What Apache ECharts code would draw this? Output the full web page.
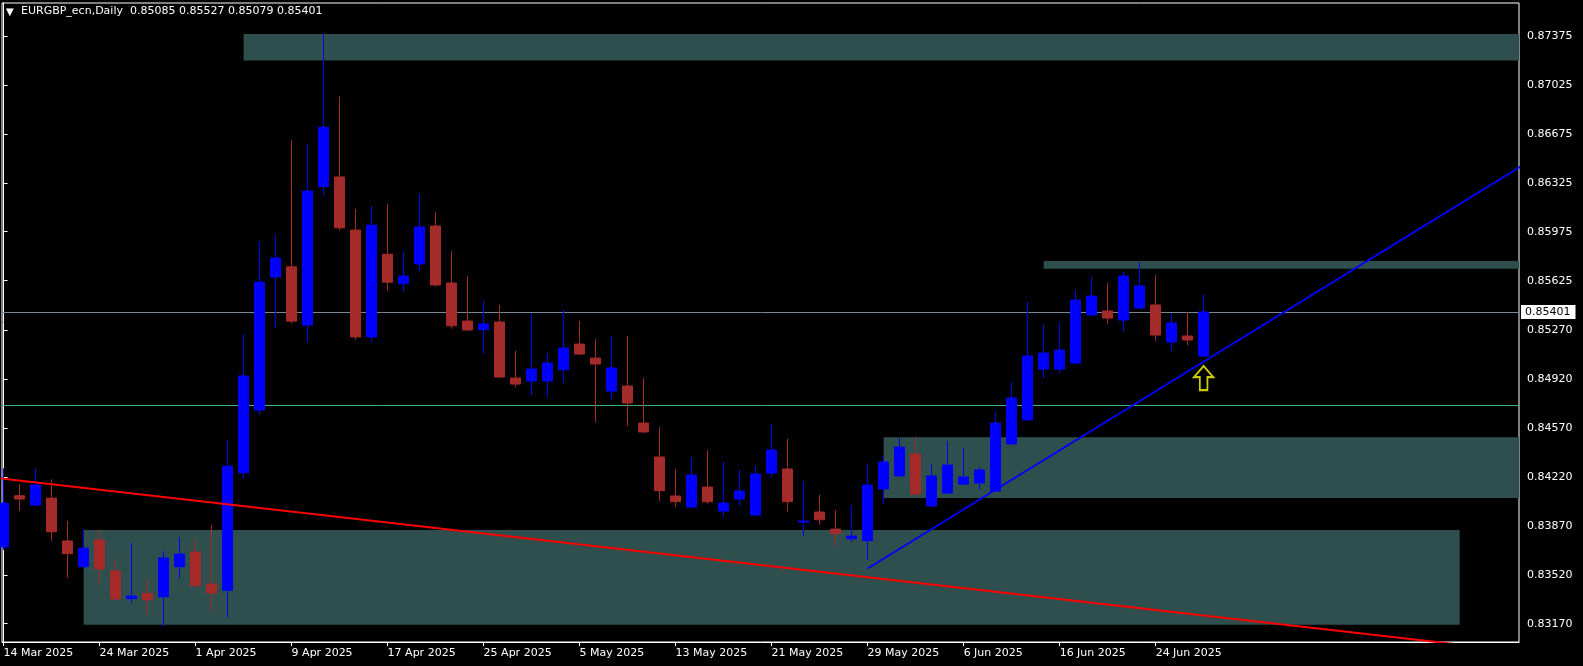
<!DOCTYPE html>
<html><head><meta charset="utf-8">
<script src="https://cdn.jsdelivr.net/npm/echarts@6.0.0/dist/echarts.min.js"></script>
<style>html,body{margin:0;padding:0;background:#000;}#c{width:1583px;height:666px;}</style>
</head><body><div id="c"></div><script>
const titleText = 'EURGBP_ecn,Daily  0.85085 0.85527 0.85079 0.85401';
const dates = ['14 Mar 2025','17 Mar 2025','18 Mar 2025','19 Mar 2025','20 Mar 2025','21 Mar 2025',
 '24 Mar 2025','25 Mar 2025','26 Mar 2025','27 Mar 2025','28 Mar 2025','31 Mar 2025',
 '1 Apr 2025','2 Apr 2025','3 Apr 2025','4 Apr 2025','7 Apr 2025','8 Apr 2025',
 '9 Apr 2025','10 Apr 2025','11 Apr 2025','14 Apr 2025','15 Apr 2025','16 Apr 2025',
 '17 Apr 2025','18 Apr 2025','21 Apr 2025','22 Apr 2025','23 Apr 2025','24 Apr 2025',
 '25 Apr 2025','28 Apr 2025','29 Apr 2025','30 Apr 2025','1 May 2025','2 May 2025',
 '5 May 2025','6 May 2025','7 May 2025','8 May 2025','9 May 2025','12 May 2025',
 '13 May 2025','14 May 2025','15 May 2025','16 May 2025','19 May 2025','20 May 2025',
 '21 May 2025','22 May 2025','23 May 2025','26 May 2025','27 May 2025','28 May 2025',
 '29 May 2025','30 May 2025','2 Jun 2025','3 Jun 2025','4 Jun 2025','5 Jun 2025',
 '6 Jun 2025','9 Jun 2025','10 Jun 2025','11 Jun 2025','12 Jun 2025','13 Jun 2025',
 '16 Jun 2025','17 Jun 2025','18 Jun 2025','19 Jun 2025','20 Jun 2025','23 Jun 2025',
 '24 Jun 2025','25 Jun 2025','26 Jun 2025','27 Jun 2025'];
const opens = [0.83719,0.84086,0.84019,0.84069,0.83762,0.83578,0.83769,0.83547,0.83349,0.83387,
 0.83363,0.83578,0.83683,0.83454,0.83409,0.84250,0.84699,0.85652,0.85724,0.85307,
 0.86299,0.86367,0.85987,0.85222,0.85814,0.85603,0.85745,0.86016,0.85608,0.85336,
 0.85274,0.85329,0.84928,0.84907,0.84907,0.84987,0.85171,0.85071,0.84835,0.84871,
 0.84606,0.84363,0.84084,0.84005,0.84148,0.83976,0.84062,0.83948,0.84248,0.84277,
 0.83897,0.83969,0.83847,0.83778,0.83764,0.84134,0.84227,0.84384,0.84012,0.84105,
 0.84169,0.84177,0.84119,0.84456,0.84628,0.84992,0.84992,0.85035,0.85379,0.85408,
 0.85343,0.85429,0.85451,0.85186,0.85229,0.85085];
const highs = [0.84282,0.84169,0.84282,0.84203,0.83905,0.83845,0.83840,0.83631,0.83747,0.83487,
 0.83690,0.83790,0.83785,0.83875,0.84483,0.85239,0.85907,0.85951,0.86630,0.86603,
 0.87389,0.86945,0.86138,0.86159,0.86173,0.85831,0.86244,0.86116,0.85837,0.85658,
 0.85479,0.85451,0.85121,0.85386,0.85107,0.85415,0.85336,0.85207,0.85229,0.85229,
 0.84928,0.84577,0.84277,0.84363,0.84413,0.84327,0.84270,0.84298,0.84599,0.84492,
 0.84191,0.84091,0.83983,0.84019,0.84313,0.84370,0.84499,0.84506,0.84313,0.84477,
 0.84427,0.84291,0.84685,0.84892,0.85472,0.85315,0.85322,0.85558,0.85651,0.85608,
 0.85687,0.85758,0.85665,0.85386,0.85400,0.85527];
const lows = [0.83697,0.83978,0.84019,0.83764,0.83499,0.83578,0.83456,0.83341,0.83318,0.83234,
 0.83148,0.83492,0.83430,0.83257,0.83212,0.84209,0.84666,0.85285,0.85318,0.85186,
 0.86238,0.85984,0.85203,0.85189,0.85554,0.85543,0.85696,0.85582,0.85281,0.85264,
 0.85107,0.84928,0.84864,0.84806,0.84792,0.84892,0.85093,0.84613,0.84778,0.84585,
 0.84534,0.84050,0.84007,0.84005,0.84028,0.83933,0.84019,0.83948,0.84220,0.83971,
 0.83799,0.83878,0.83728,0.83757,0.83626,0.84026,0.84227,0.84091,0.84012,0.84105,
 0.84162,0.84127,0.84119,0.84456,0.84628,0.84928,0.84964,0.85035,0.85379,0.85315,
 0.85257,0.85429,0.85193,0.85121,0.85164,0.85079];
const closes = [0.84033,0.84062,0.84162,0.83828,0.83671,0.83711,0.83561,0.83346,0.83368,0.83341,
 0.83640,0.83668,0.83442,0.83390,0.84297,0.84943,0.85614,0.85787,0.85335,0.86266,
 0.86723,0.86003,0.85222,0.86022,0.85614,0.85658,0.86009,0.85594,0.85302,0.85272,
 0.85315,0.84935,0.84885,0.84992,0.85035,0.85143,0.85100,0.85028,0.85000,0.84749,
 0.84542,0.84122,0.84043,0.84234,0.84043,0.84033,0.84119,0.84241,0.84413,0.84043,
 0.83905,0.83914,0.83814,0.83797,0.84162,0.84327,0.84434,0.84098,0.84227,0.84305,
 0.84220,0.84270,0.84606,0.84785,0.85086,0.85107,0.85128,0.85486,0.85515,0.85357,
 0.85658,0.85587,0.85236,0.85322,0.85200,0.85401];
const tickBars = [0,6,12,18,24,30,36,42,48,54,60,66,72];
const priceTicks = [0.87375,0.87025,0.86675,0.86325,0.85975,0.85625,0.85270,0.84920,0.84570,0.84220,0.83870,0.83520,0.83170];
const lastPrice = 0.85401;
const greenLevel = 0.84736;
// view window (bar index / price)
const xMin = -0.1, xMax = 94.71, yMin = 0.83039, yMax = 0.87612;
// zones: [fromBar, toBar, topPrice, bottomPrice]
const zones = [
  [15, xMax, 0.87390, 0.87200],
  [65, xMax, 0.85765, 0.85710],
  [55, xMax, 0.84505, 0.84070],
  [5, 91, 0.83840, 0.83162]
];
const redTrend = [[-1, 0.84220], [95, 0.82968]];
const blueTrend = [[54, 0.83565], [96, 0.86526]];
const arrowPoint = [75, 0.84928];

const candleData = opens.map((o, i) => [i, o, closes[i], lows[i], highs[i]]);
const FONT = 'DejaVu Sans';
const chart = echarts.init(document.getElementById('c'), null, {renderer: 'canvas'});
chart.setOption({
  backgroundColor: '#000',
  animation: false,
  title: [
    {text: '▼', left: 1, top: 2, textStyle: {color: '#fff', fontSize: 10, fontWeight: 'normal', fontFamily: FONT}},
    {text: titleText, left: 16, top: 1, textStyle: {color: '#fff', fontSize: 11, fontWeight: 'normal', fontFamily: FONT}}
  ],
  grid: {left: 2, top: 3, right: 64, bottom: 24, show: true, borderColor: '#fff', borderWidth: 1, backgroundColor: '#000', containLabel: false},
  xAxis: {
    type: 'value', min: xMin, max: xMax,
    axisLine: {show: true, lineStyle: {color: '#fff', width: 1}},
    axisTick: {show: true, customValues: tickBars, length: 4, lineStyle: {color: '#fff'}},
    axisLabel: {show: true, customValues: tickBars, formatter: v => dates[Math.round(v)] || '', align: 'left', margin: 6,
      color: '#fff', fontSize: 11, fontFamily: FONT},
    splitLine: {show: false}
  },
  yAxis: {
    type: 'value', position: 'right', min: yMin, max: yMax, scale: true,
    axisLine: {show: true, lineStyle: {color: '#fff', width: 1}},
    axisTick: {show: true, customValues: priceTicks, length: 4, lineStyle: {color: '#fff'}},
    axisLabel: {show: true, customValues: priceTicks, formatter: v => v.toFixed(5), margin: 8,
      color: '#fff', fontSize: 11, fontFamily: FONT},
    splitLine: {show: false}
  },
  series: [
    {
      type: 'candlestick', name: 'EURGBP', z: 3,
      data: candleData,
      encode: {x: 0, y: [1, 2, 3, 4]},
      barWidth: 10,
      itemStyle: {color: '#0000FF', color0: '#A52A2A', borderColor: '#0000FF', borderColor0: '#A52A2A', borderWidth: 1},
      markArea: {
        silent: true, z: 1,
        itemStyle: {color: '#2F4F4F', opacity: 1},
        data: zones.map(z => [{coord: [z[0], z[2]]}, {coord: [z[1], z[3]]}])
      },
      markLine: {
        silent: true, z: 2, symbol: ['none', 'none'], precision: 5,
        data: [
          {yAxis: lastPrice, lineStyle: {color: '#778899', width: 1, type: 'solid'},
           label: {show: true, position: 'end', formatter: lastPrice.toFixed(5), color: '#000', backgroundColor: '#fff',
             padding: [2, 5, 1, 4], distance: 2, fontSize: 11, fontFamily: FONT}},
          {yAxis: greenLevel, lineStyle: {color: '#3CB371', width: 1, type: 'solid'}, label: {show: false}}
        ]
      }
    },
    {type: 'line', name: 'red trend', z: 5, data: redTrend, symbol: 'none', clip: true,
     lineStyle: {color: '#FF0000', width: 2}},
    {type: 'line', name: 'blue trend', z: 5, data: blueTrend, symbol: 'none', clip: true,
     lineStyle: {color: '#0000FF', width: 2}},
    {type: 'scatter', name: 'arrow', z: 6, data: [arrowPoint],
     symbol: 'path://M10,0 L20,11 L14,11 L14,24 L6,24 L6,11 L0,11 Z', symbolSize: [19, 24],
     itemStyle: {color: '#000', borderColor: '#FFFF00', borderWidth: 2}}
  ]
});
</script></body></html>
